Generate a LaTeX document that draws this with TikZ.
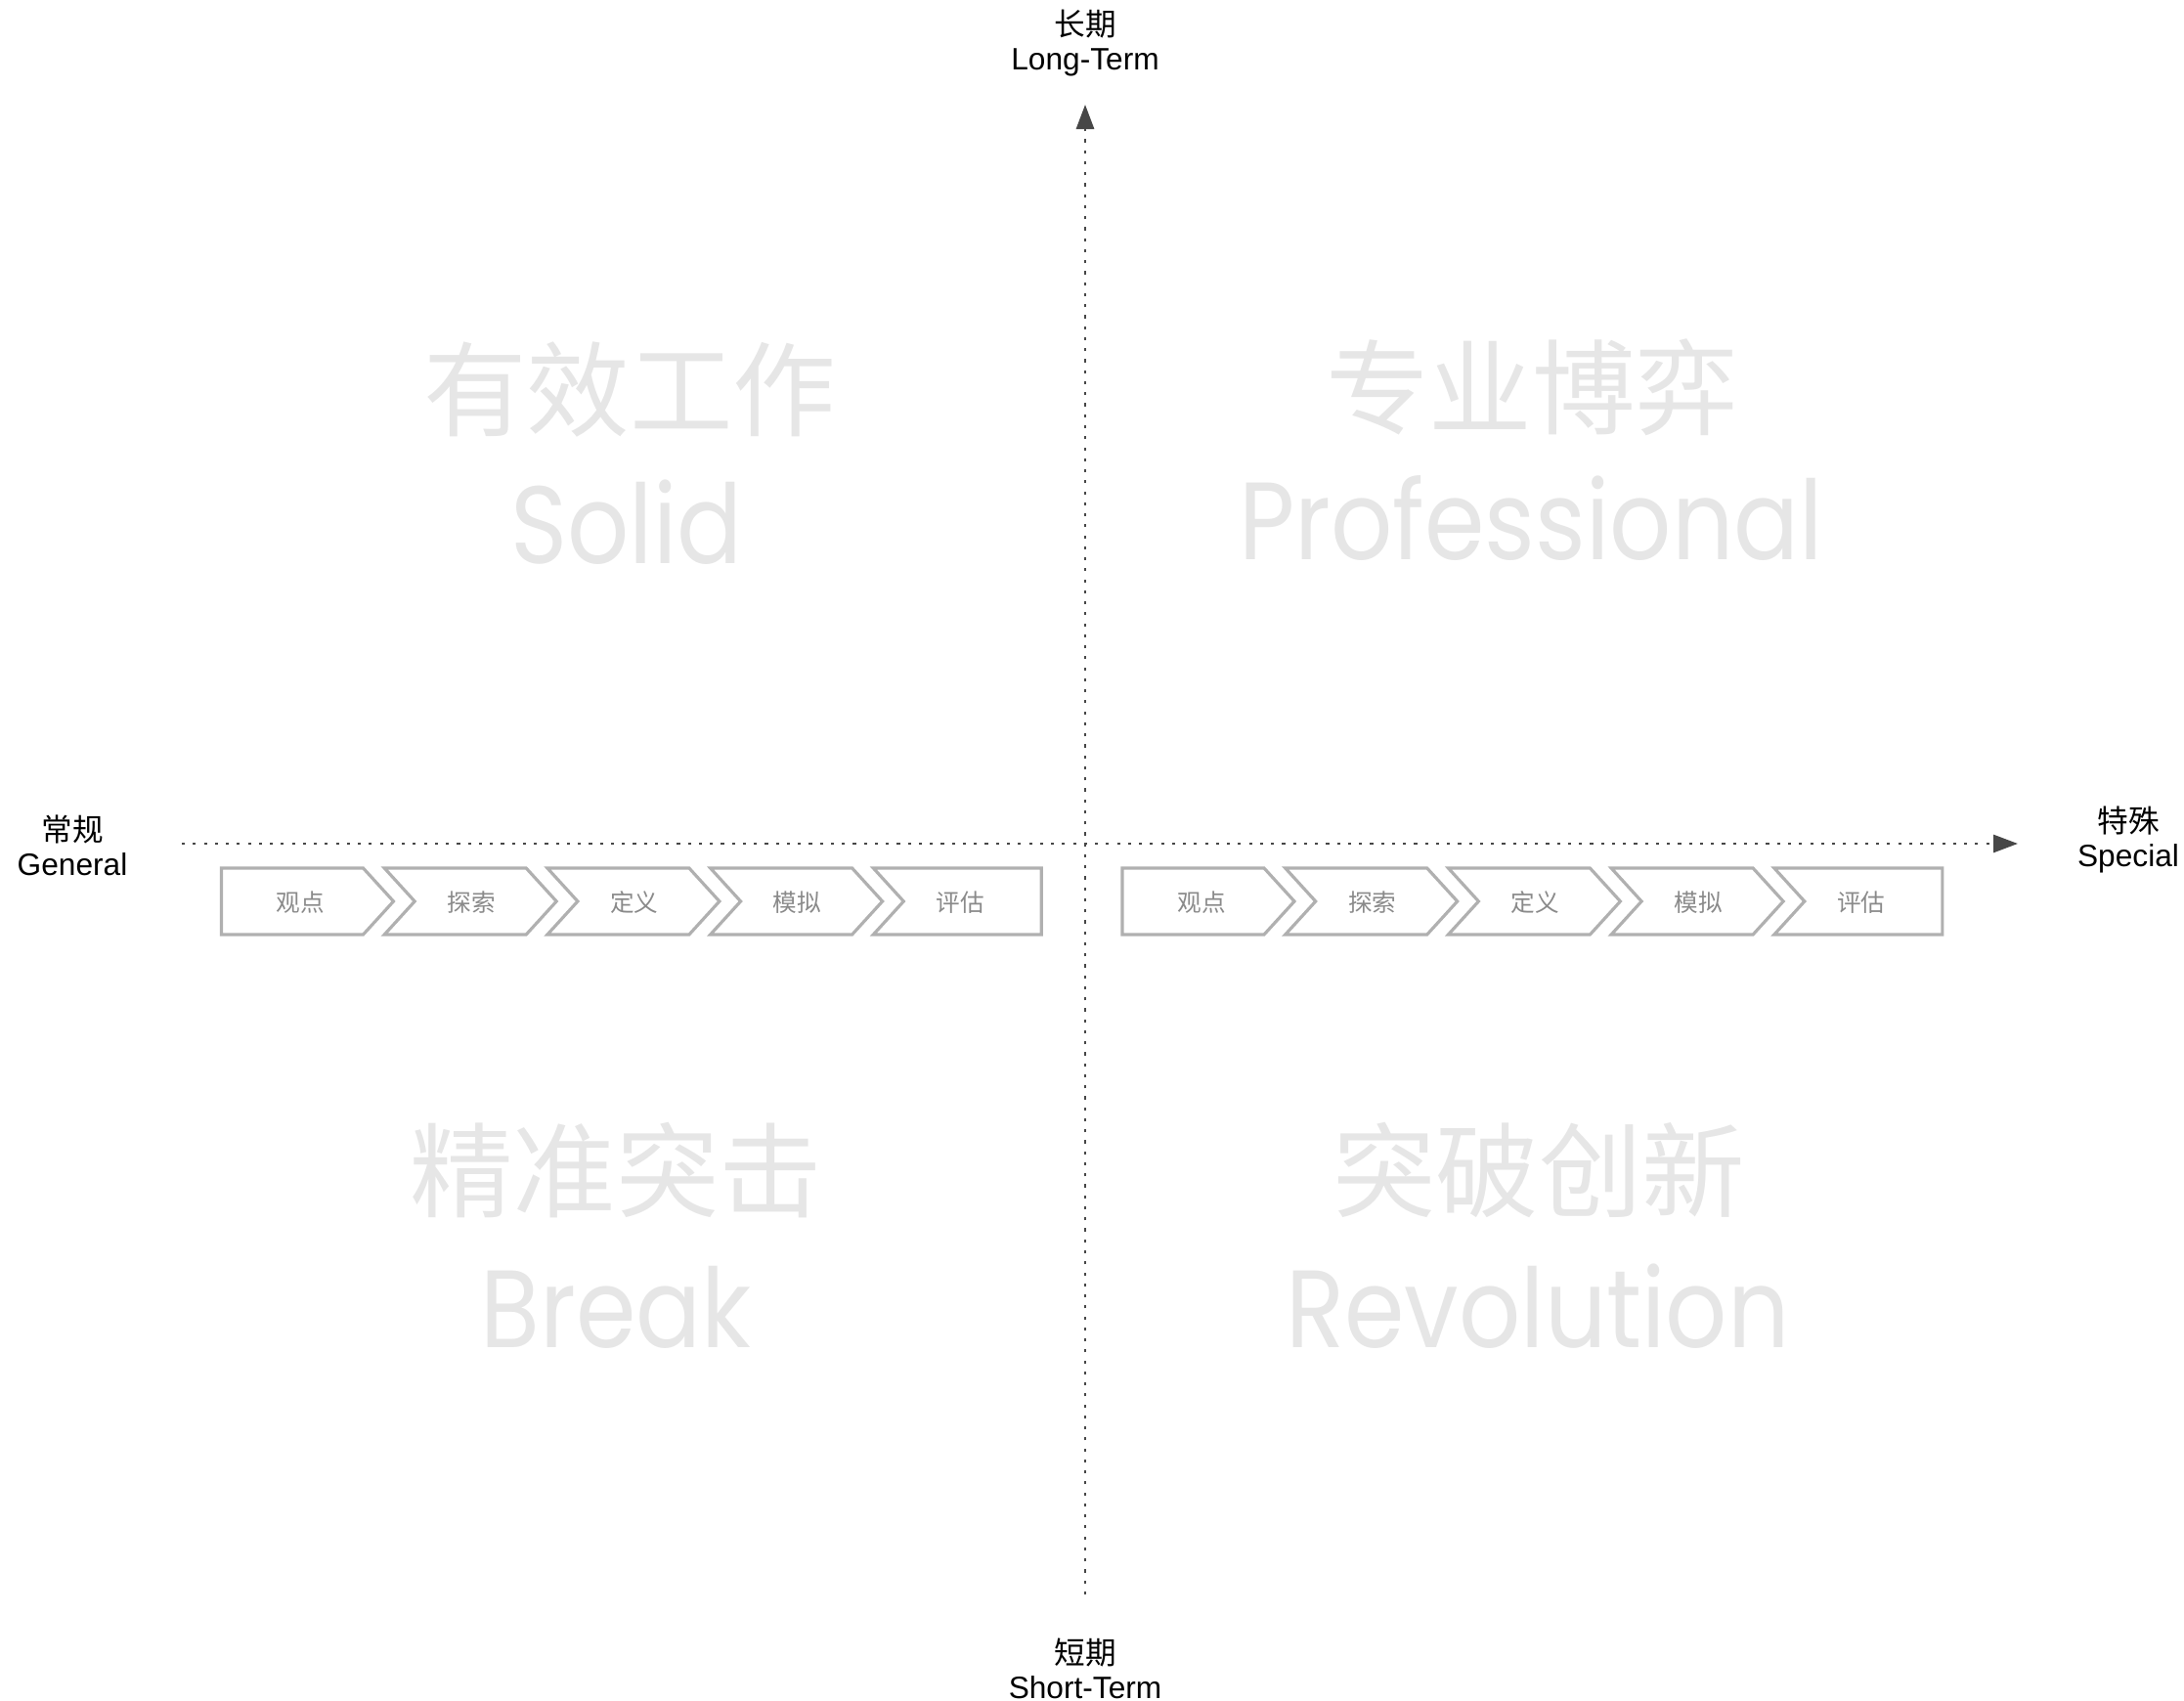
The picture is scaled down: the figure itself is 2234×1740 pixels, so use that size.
\documentclass[tikz,border=0pt]{standalone}
\usepackage{fontspec}
\setmainfont{Liberation Sans}
\newfontfamily\cjk{Noto Sans CJK SC}
\newfontfamily\geo{Poppins}[FakeStretch=0.88]
\usetikzlibrary{arrows.meta, positioning}

\definecolor{axisgray}{HTML}{474747}
\definecolor{boxgray}{HTML}{B0B0B0}
\definecolor{stepgray}{HTML}{8A8A8A}
\definecolor{biggray}{HTML}{E6E6E6}

\begin{document}
\begin{tikzpicture}[x=0.01cm, y=-0.01cm,
	axis/.style={draw=axisgray, line width=0.8pt, dash pattern=on 0.9pt off 2.3pt,
		-{Triangle[length=0.25cm, width=0.18cm, fill=axisgray]}},
	axislabel/.style={align=center, inner sep=0pt, font=\fontsize{9}{10}\selectfont},
	chevron/.style={draw=boxgray, line width=0.9pt, line join=miter},
	steptext/.style={text=stepgray, inner sep=0pt, font=\cjk\fontsize{7}{8}\selectfont},
	bigcn/.style={text=biggray, inner sep=0pt, font=\cjk\fontsize{30}{30}\selectfont},
	bigen/.style={text=biggray, inner sep=0pt, anchor=base, font=\geo\fontsize{32}{32}\selectfont}]
	
	\useasboundingbox (0,0) rectangle (2234,1740);
	
	\def\boxtop{888}
	\def\boxmid{922}
	\def\boxbot{956}
	
	% axes
	\coordinate (west) at (186,863);
	\coordinate (east) at (2064,863);
	\coordinate (south) at (1110,1631);
	\coordinate (north) at (1110,107);
	\draw[axis] (west) -- (east);
	\draw[axis] (south) -- (north);
	
	\node[axislabel] (longterm) at (1110,44) {{\cjk 长期}\\Long-Term};
	\node[axislabel] (shortterm) at (1110,1707) {{\cjk 短期}\\Short-Term};
	\node[axislabel] (general) at (74,865) {{\cjk 常规}\\General};
	\node[axislabel] (special) at (2177,859) {{\cjk 特殊}\\Special};
	
	% steps
	\foreach \g/\gx in {l/226.5, r/1148}
	\foreach \i/\word in {0/观点, 1/探索, 2/定义, 3/模拟, 4/评估} {
		\pgfmathsetmacro\lx{\gx+166.7*\i}
		\pgfmathsetmacro\rx{\lx+(\i==4 ? 172 : 145)}
		\pgfmathsetmacro\nd{\i==0 ? 0 : 31}
		\pgfmathsetmacro\td{\i==4 ? 0 : 31}
		\pgfmathsetmacro\tx{\lx+(\i==0 ? 81 : 89)}
		\draw[chevron] (\lx,\boxtop) -- (\rx,\boxtop) -- (\rx+\td,\boxmid) -- (\rx,\boxbot)
			-- (\lx,\boxbot) -- (\lx+\nd,\boxmid) -- cycle;
		\node[steptext] (step-\g-\i) at (\tx,923) {\word};
	}
	
	% quadrants
	\node[bigcn] (solid-cn) at (644,399) {有效工作};
	\node[bigen] (solid-en) at (641,577) {Solid};
	\node[bigcn] (pro-cn) at (1567,396) {专业博弈};
	\node[bigen] (pro-en) at (1566,573) {Professional};
	\node[bigcn] (break-cn) at (630,1197) {精准突击};
	\node[bigen] (break-en) at (630,1378) {Break};
	\node[bigcn] (rev-cn) at (1574,1197) {突破创新};
	\node[bigen] (rev-en) at (1573,1378) {Revolution};
	
\end{tikzpicture}
\end{document}
